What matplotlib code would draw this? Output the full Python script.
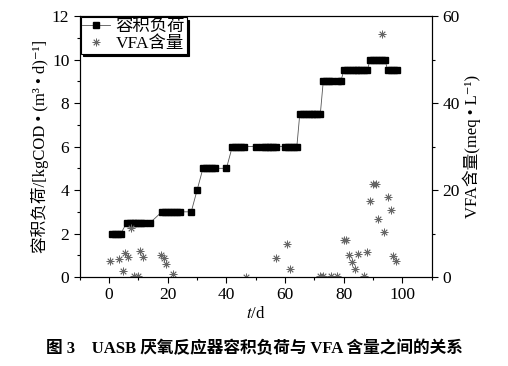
import matplotlib
matplotlib.use("Agg")
import matplotlib.pyplot as plt
from matplotlib.ticker import MultipleLocator

plt.rcParams['font.family'] = ['Liberation Serif', 'Noto Sans CJK SC', 'DejaVu Serif']
plt.rcParams['mathtext.fontset'] = 'stix'

# volume load (kgCOD/(m3 d)) by day
load_days = [1, 2, 3, 4,
             6, 7, 8, 9, 10, 11, 12, 14,
             18, 19, 20, 21, 22, 23, 24, 28,
             30,
             32, 33, 34, 35, 36, 40,
             42, 43, 44, 45, 46, 50, 52, 53, 54, 55, 56, 57, 60, 61, 62, 63, 64,
             65, 66, 67, 68, 69, 70, 71, 72,
             73, 74, 75, 76, 78, 79,
             80, 81, 82, 83, 84, 85, 86, 87, 88,
             89, 90, 91, 92, 93, 94,
             95, 96, 97, 98]
load_vals = [2.0] * 4 + [2.5] * 8 + [3.0] * 8 + [4.0] + [5.0] * 6 + \
            [6.0] * 17 + [7.5] * 8 + [9.0] * 6 + [9.5] * 9 + [10.0] * 6 + [9.5] * 4

# VFA content (meq/L)
vfa_days = [0.3, 3.4, 4.6, 5.4, 6.5, 7.5, 8.6, 9.7, 10.4, 11.6,
            17.7, 18.6, 19.5, 21.7, 46.6, 56.8, 60.8, 61.7,
            71.9, 72.8, 75.6, 77.8, 80.0, 80.9, 81.8, 82.9, 83.9, 84.8,
            86.9, 87.8, 88.9, 89.9, 90.9, 91.8, 92.9, 93.8, 94.9, 96.0,
            96.8, 97.8]
vfa_vals = [3.8, 4.1, 1.5, 5.6, 4.6, 11.2, 0.3, 0.3, 6.0, 4.7,
            5.1, 4.3, 3.0, 0.7, 0.1, 4.4, 7.7, 1.8,
            0.3, 0.3, 0.3, 0.3, 8.6, 8.6, 5.0, 3.4, 1.8, 5.4,
            0.3, 5.8, 17.5, 21.5, 21.5, 13.4, 56.0, 10.3, 18.5, 15.4,
            4.9, 3.7]

fig = plt.figure(figsize=(5.08, 3.66), dpi=100)
ax = fig.add_axes([0.157, 0.243, 0.693, 0.713])
ax2 = ax.twinx()

l1, = ax.plot(load_days, load_vals, color='#555555', lw=0.6, marker='s',
              markersize=4.5, markerfacecolor='black', markeredgecolor='black',
              label='容积负荷', zorder=3)
l2, = ax2.plot(vfa_days, vfa_vals, ls='none', marker=(8, 2, 0), markersize=5.5,
               markeredgewidth=0.6, color='#666666', label='VFA含量')

ax.set_xlim(-10, 110)
ax.set_ylim(0, 12)
ax2.set_ylim(0, 60)
ax.xaxis.set_major_locator(MultipleLocator(20))
ax.xaxis.set_minor_locator(MultipleLocator(10))
ax.yaxis.set_major_locator(MultipleLocator(2))
ax.yaxis.set_minor_locator(MultipleLocator(1))
ax2.yaxis.set_major_locator(MultipleLocator(20))
ax2.yaxis.set_minor_locator(MultipleLocator(10))
for a in (ax, ax2):
    a.tick_params(which='both', direction='out', labelsize=12.5, width=0.8)
    a.tick_params(which='major', length=4)
    a.tick_params(which='minor', length=2.5)

ax.set_xlabel('$t$/d', fontsize=12, labelpad=2)
ax.set_ylabel('容积负荷/[kgCOD • (m³ • d)⁻¹]', fontsize=12, labelpad=2)
ax2.set_ylabel('VFA含量(meq • L⁻¹)', fontsize=12, labelpad=2, rotation=90)

leg = ax.legend(handles=[l1, l2], loc='upper left', fontsize=12.5, frameon=True,
                fancybox=False, shadow={'color': 'black', 'alpha': 1},
                borderpad=0.1, handlelength=1.6, handletextpad=0.3,
                labelspacing=0.05, borderaxespad=0.05)
leg.get_frame().set_edgecolor('black')
leg.get_frame().set_linewidth(0.8)

fig.text(0.5, 0.035, '图 3　UASB 厌氧反应器容积负荷与 VFA 含量之间的关系',
         ha='center', fontsize=12, fontweight='bold')

plt.savefig('out.png', dpi=100)
